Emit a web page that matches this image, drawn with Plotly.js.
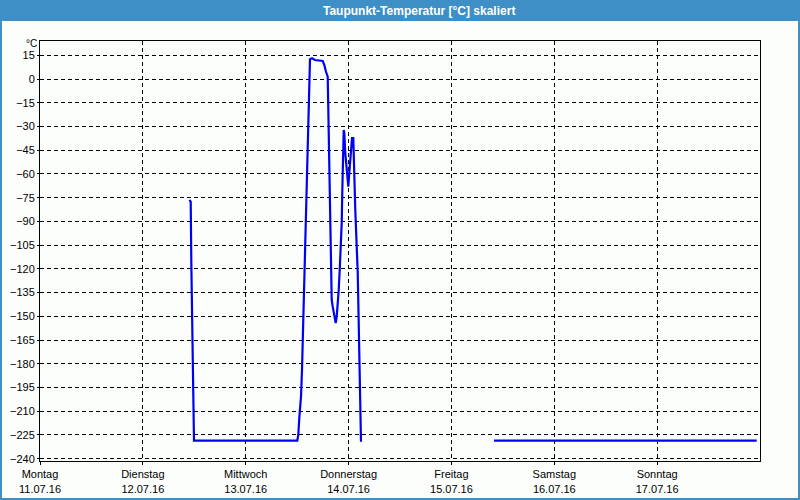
<!DOCTYPE html>
<html>
<head>
<meta charset="utf-8">
<script src="https://cdn.plot.ly/plotly-3.0.1.min.js"></script>
<style>
html,body{margin:0;padding:0;background:#fcfefc;}
#chart{width:800px;height:500px;}
</style>
</head>
<body>
<div id="chart"></div>
<script>
// Dew point (Taupunkt) readings, °C; null separates gaps in the record
const times = [
  '2016-07-12 10:50','2016-07-12 11:10','2016-07-12 11:18','2016-07-12 11:32','2016-07-12 11:46','2016-07-12 11:56',
  '2016-07-13 12:02','2016-07-13 12:16','2016-07-13 12:30','2016-07-13 12:40','2016-07-13 12:54','2016-07-13 13:08',
  '2016-07-13 13:22','2016-07-13 13:36','2016-07-13 13:50','2016-07-13 14:04','2016-07-13 14:18','2016-07-13 14:32',
  '2016-07-13 14:50','2016-07-13 15:00','2016-07-13 15:28','2016-07-13 16:10','2016-07-13 17:58','2016-07-13 18:20',
  '2016-07-13 18:44','2016-07-13 19:08','2016-07-13 19:22','2016-07-13 19:36','2016-07-13 19:50','2016-07-13 20:04',
  '2016-07-13 20:18','2016-07-13 20:36','2016-07-13 20:50','2016-07-13 21:00','2016-07-13 21:14','2016-07-13 21:28',
  '2016-07-13 21:42','2016-07-13 21:56','2016-07-13 22:10','2016-07-13 22:24','2016-07-13 22:32','2016-07-13 22:42',
  '2016-07-13 22:52','2016-07-13 23:00','2016-07-13 23:14','2016-07-13 23:28','2016-07-13 23:42','2016-07-13 23:56',
  '2016-07-14 00:06','2016-07-14 00:20','2016-07-14 00:34','2016-07-14 00:48','2016-07-14 01:06','2016-07-14 01:16',
  '2016-07-14 01:34','2016-07-14 01:54','2016-07-14 02:08','2016-07-14 02:22','2016-07-14 02:30','2016-07-14 02:40',
  '2016-07-14 02:54',
  '2016-07-15 00:00',
  '2016-07-15 09:56','2016-07-17 23:14'
];
const dewpoint = [
  -76.5, -77.5, -114.8, -152.9, -190.7, -228.6,
  -228.6, -225, -214.3, -209.2, -200.8, -183.9,
  -158.6, -132.7, -106.8, -80.7, -59.4, -34.1,
  -11.2, 12.5, 13.1, 12.0, 11.4, 8.9,
  4.6, 1.5, -33.3, -68.9, -103.6, -139.7,
  -143.9, -149.1, -152.3, -154.2, -150.2, -143.9,
  -133.4, -120.7, -109.1, -91, -71.2, -51.2,
  -32.2, -34.1, -46.8, -54.3, -59.4, -68.1,
  -61.7, -53.1, -44.9, -37.3, -37.3, -60.7,
  -82.8, -106, -121.8, -154.2, -178.7, -204,
  -229.3,
  null,
  -228.6, -228.6
];
const dayTicks = ['2016-07-11','2016-07-12','2016-07-13','2016-07-14','2016-07-15','2016-07-16','2016-07-17'];
const dayNames = ['Montag','Dienstag','Mittwoch','Donnerstag','Freitag','Samstag','Sonntag'];
const dayDates = ['11.07.16','12.07.16','13.07.16','14.07.16','15.07.16','16.07.16','17.07.16'];
const tickText = dayNames.map((n,i)=>n+'<br>'+dayDates[i]);

const FONT = 'Liberation Sans, Arial, sans-serif';
const bg = '#fcfefc';
const frameBlue = '#3d8fc6';

const trace = {
  x: times, y: dewpoint, type:'scatter', mode:'lines',
  connectgaps:false,
  line:{color:'#0000f5', width:2.2},
  hoverinfo:'skip'
};

const layout = {
  width:800, height:500,
  margin:{l:40, r:40, t:41, b:39, pad:0},
  paper_bgcolor:bg, plot_bgcolor:bg,
  showlegend:false,
  font:{family:FONT, size:11, color:'#000'},
  title:{text:'<b>Taupunkt-Temperatur [°C] skaliert</b>', font:{family:FONT, size:12, color:'#ffffff'},
         x:0.524, xanchor:'center', xref:'container', y:0.979, yanchor:'middle', yref:'container'},
  xaxis:{
    type:'date', range:['2016-07-11 00:00','2016-07-18 00:00'],
    tickmode:'array', tickvals:dayTicks, ticktext:tickText,
    showgrid:true, gridcolor:'#000', gridwidth:1, griddash:'4px,3px',
    showline:true, linecolor:'#000', linewidth:1, mirror:true,
    ticks:'outside', ticklen:3, tickcolor:'#000', tickwidth:1,
    tickfont:{family:FONT, size:11, color:'#000'},
    zeroline:false, fixedrange:true
  },
  yaxis:{
    range:[-241.45, 24.04],
    tickmode:'linear', tick0:0, dtick:15,
    showgrid:true, gridcolor:'#000', gridwidth:1, griddash:'4px,3px',
    showline:true, linecolor:'#000', linewidth:1, mirror:true,
    ticks:'outside', ticklen:2, tickcolor:'#000',
    tickfont:{family:FONT, size:11, color:'#000'},
    zeroline:false, fixedrange:true
  },
  shapes:[
    {type:'rect', xref:'paper', yref:'paper', x0:-0.0556, x1:1.0556, y0:1.0476, y1:1.0977,
     fillcolor:frameBlue, line:{width:0}, layer:'below'},
    {type:'rect', xref:'paper', yref:'paper', x0:-0.0542, x1:1.0542, y0:-0.0905, y1:1.05,
     fillcolor:'rgba(0,0,0,0)', line:{width:2, color:frameBlue}, layer:'below'}
  ],
  annotations:[
    {text:'°C', xref:'paper', yref:'paper', x:(31-40)/720, y:(461-43.5)/420, xanchor:'center', yanchor:'middle',
     showarrow:false, font:{family:FONT, size:10, color:'#000'}}
  ]
};

Plotly.newPlot('chart', [trace], layout, {staticPlot:true, displayModeBar:false});
</script>
</body>
</html>
